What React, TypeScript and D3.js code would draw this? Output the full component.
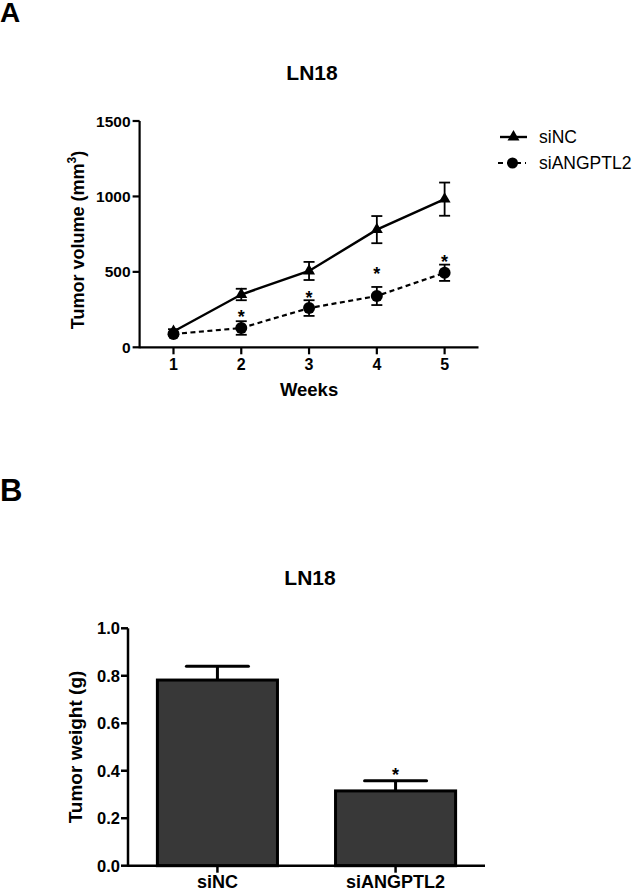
import React from "react";
import * as d3 from "d3";

const weeks = [1, 2, 3, 4, 5];
const siNCVolume = [105, 350, 506, 780, 982];
const siNCVolumeErr = [15, 38, 60, 90, 110];
const siANGVolume = [88, 128, 260, 340, 494];
const siANGVolumeErr = [10, 45, 52, 60, 54];
const starWeeks = [2, 3, 4, 5];
const starLevels = [225, 355, 512, 592];
const volumeTicks = [0, 500, 1000, 1500];

const barGroups = ["siNC", "siANGPTL2"];
const weightMeans = [0.782, 0.315];
const weightErr = [0.058, 0.043];
const weightStars = [false, true];
const weightTicks = [0, 0.2, 0.4, 0.6, 0.8, 1.0];

const FONT = "'Liberation Sans', Arial, sans-serif";

export default function App() {
  // Panel A scales
  const xA = d3.scaleLinear().domain([0.5, 5.5]).range([139.6, 478.5]);
  const yA = d3.scaleLinear().domain([0, 1500]).range([347.3, 121]);
  const lineA = d3
    .line<number>()
    .x((_, i) => xA(weeks[i]))
    .y((d) => yA(d));
  const tri = d3.symbol().type(d3.symbolTriangle).size(62)();

  // Panel B scales
  const xB = d3
    .scaleBand<string>()
    .domain(barGroups)
    .range([128, 485])
    .paddingInner(0.326)
    .paddingOuter(0.165);
  const yB = d3.scaleLinear().domain([0, 1]).range([865.7, 628.3]);

  const ax0 = xA(0.5);
  const capA = 5.5;

  return (
    <svg
      width={633}
      height={890}
      style={{ position: "absolute", left: 0, top: 0, background: "#fff" }}
      fontFamily={FONT}
    >
      <rect x={0} y={0} width={633} height={890} fill="#fff" />
      {/* Panel labels */}
      <text x={0} y={22} fontSize={28} fontWeight="bold">A</text>
      <text x={0} y={501} fontSize={31} fontWeight="bold">B</text>

      {/* ---------- Panel A ---------- */}
      <text x={312} y={80} fontSize={21} fontWeight="bold" textAnchor="middle">LN18</text>
      {/* axes */}
      <line x1={ax0} x2={ax0} y1={yA(1500)} y2={yA(0) + 1} stroke="#000" strokeWidth={2.2} />
      <line x1={ax0} x2={xA(5.5)} y1={yA(0)} y2={yA(0)} stroke="#000" strokeWidth={2.2} />
      {volumeTicks.map((t) => (
        <g key={"yt" + t}>
          <line x1={ax0 - 7} x2={ax0} y1={yA(t)} y2={yA(t)} stroke="#000" strokeWidth={2.2} />
          <text x={ax0 - 9} y={yA(t) + 5.5} fontSize={15.5} fontWeight="bold" textAnchor="end">
            {t}
          </text>
        </g>
      ))}
      {weeks.map((w) => (
        <g key={"xt" + w}>
          <line x1={xA(w)} x2={xA(w)} y1={yA(0)} y2={yA(0) + 7} stroke="#000" strokeWidth={2.2} />
          <text x={xA(w)} y={370} fontSize={16} fontWeight="bold" textAnchor="middle">
            {w}
          </text>
        </g>
      ))}
      <text x={xA(3)} y={396} fontSize={18.5} fontWeight="bold" textAnchor="middle">Weeks</text>
      <text
        transform={`translate(84,${240}) rotate(-90)`}
        fontSize={18}
        fontWeight="bold"
        textAnchor="middle"
      >
        Tumor volume (mm<tspan fontSize={12} dy={-8}>3</tspan>
        <tspan dy={8}>)</tspan>
      </text>

      {/* siANGPTL2 dashed series */}
      <path d={lineA(siANGVolume) || ""} fill="none" stroke="#000" strokeWidth={2.2} strokeDasharray="5,3.5" />
      {siANGVolume.map((v, i) => (
        <g key={"ea" + i}>
          <line x1={xA(weeks[i])} x2={xA(weeks[i])} y1={yA(v - siANGVolumeErr[i])} y2={yA(v + siANGVolumeErr[i])} stroke="#000" strokeWidth={1.8} />
          <line x1={xA(weeks[i]) - capA} x2={xA(weeks[i]) + capA} y1={yA(v - siANGVolumeErr[i])} y2={yA(v - siANGVolumeErr[i])} stroke="#000" strokeWidth={1.8} />
          <line x1={xA(weeks[i]) - capA} x2={xA(weeks[i]) + capA} y1={yA(v + siANGVolumeErr[i])} y2={yA(v + siANGVolumeErr[i])} stroke="#000" strokeWidth={1.8} />
          <circle cx={xA(weeks[i])} cy={yA(v)} r={6} fill="#000" />
        </g>
      ))}
      {/* siNC solid series */}
      <path d={lineA(siNCVolume) || ""} fill="none" stroke="#000" strokeWidth={2.4} />
      {siNCVolume.map((v, i) => (
        <g key={"en" + i}>
          <line x1={xA(weeks[i])} x2={xA(weeks[i])} y1={yA(v - siNCVolumeErr[i])} y2={yA(v + siNCVolumeErr[i])} stroke="#000" strokeWidth={1.8} />
          <line x1={xA(weeks[i]) - capA} x2={xA(weeks[i]) + capA} y1={yA(v - siNCVolumeErr[i])} y2={yA(v - siNCVolumeErr[i])} stroke="#000" strokeWidth={1.8} />
          <line x1={xA(weeks[i]) - capA} x2={xA(weeks[i]) + capA} y1={yA(v + siNCVolumeErr[i])} y2={yA(v + siNCVolumeErr[i])} stroke="#000" strokeWidth={1.8} />
          <path d={tri || ""} transform={`translate(${xA(weeks[i])},${yA(v)})`} fill="#000" />
        </g>
      ))}
      {starWeeks.map((w, i) => (
        <text key={"s" + w} x={xA(w)} y={yA(starLevels[i]) + 10} fontSize={18} fontWeight="bold" textAnchor="middle">
          *
        </text>
      ))}

      {/* Legend */}
      <line x1={500} x2={527} y1={137} y2={137} stroke="#000" strokeWidth={2.4} />
      <path d={tri || ""} transform="translate(513.5,137)" fill="#000" />
      <text x={539} y={143} fontSize={17.5}>siNC</text>
      <line x1={498} x2={526} y1={163} y2={163} stroke="#000" strokeWidth={2.2} strokeDasharray="5,4" />
      <circle cx={512.5} cy={163} r={5.5} fill="#000" />
      <text x={539} y={169} fontSize={17.5}>siANGPTL2</text>

      {/* ---------- Panel B ---------- */}
      <text x={310} y={585} fontSize={21} fontWeight="bold" textAnchor="middle">LN18</text>
      {barGroups.map((g, i) => {
        const x0 = xB(g) as number;
        const bw = xB.bandwidth();
        const cx = x0 + bw / 2;
        const top = yB(weightMeans[i]);
        const et = yB(weightMeans[i] + weightErr[i]);
        return (
          <g key={"bar" + g}>
            <line x1={cx} x2={cx} y1={top} y2={et} stroke="#000" strokeWidth={3} />
            <line x1={cx - 31} x2={cx + 31} y1={et} y2={et} stroke="#000" strokeWidth={3} strokeLinecap="round" />
            <rect x={x0} y={top} width={bw} height={yB(0) - top} fill="#383838" stroke="#000" strokeWidth={3} />
            {weightStars[i] && (
              <text x={cx} y={et} fontSize={18} fontWeight="bold" textAnchor="middle">*</text>
            )}
          </g>
        );
      })}
      <line x1={128} x2={128} y1={yB(1)} y2={yB(0) + 1} stroke="#000" strokeWidth={2.5} />
      <line x1={128} x2={485} y1={yB(0)} y2={yB(0)} stroke="#000" strokeWidth={2.5} />
      {weightTicks.map((t) => (
        <g key={"byt" + t}>
          <line x1={121} x2={128} y1={yB(t)} y2={yB(t)} stroke="#000" strokeWidth={2.5} />
          <text x={120} y={yB(t) + 6} fontSize={16.5} fontWeight="bold" textAnchor="end">
            {t.toFixed(1)}
          </text>
        </g>
      ))}
      {barGroups.map((g) => {
        const cx = (xB(g) as number) + xB.bandwidth() / 2;
        return (
          <g key={"bxt" + g}>
            <line x1={cx} x2={cx} y1={yB(0)} y2={yB(0) + 7} stroke="#000" strokeWidth={2.5} />
            <text x={cx} y={888} fontSize={18} fontWeight="bold" textAnchor="middle">{g}</text>
          </g>
        );
      })}
      <text
        transform={`translate(82,747) rotate(-90)`}
        fontSize={19}
        fontWeight="bold"
        textAnchor="middle"
      >
        Tumor weight (g)
      </text>
    </svg>
  );
}
